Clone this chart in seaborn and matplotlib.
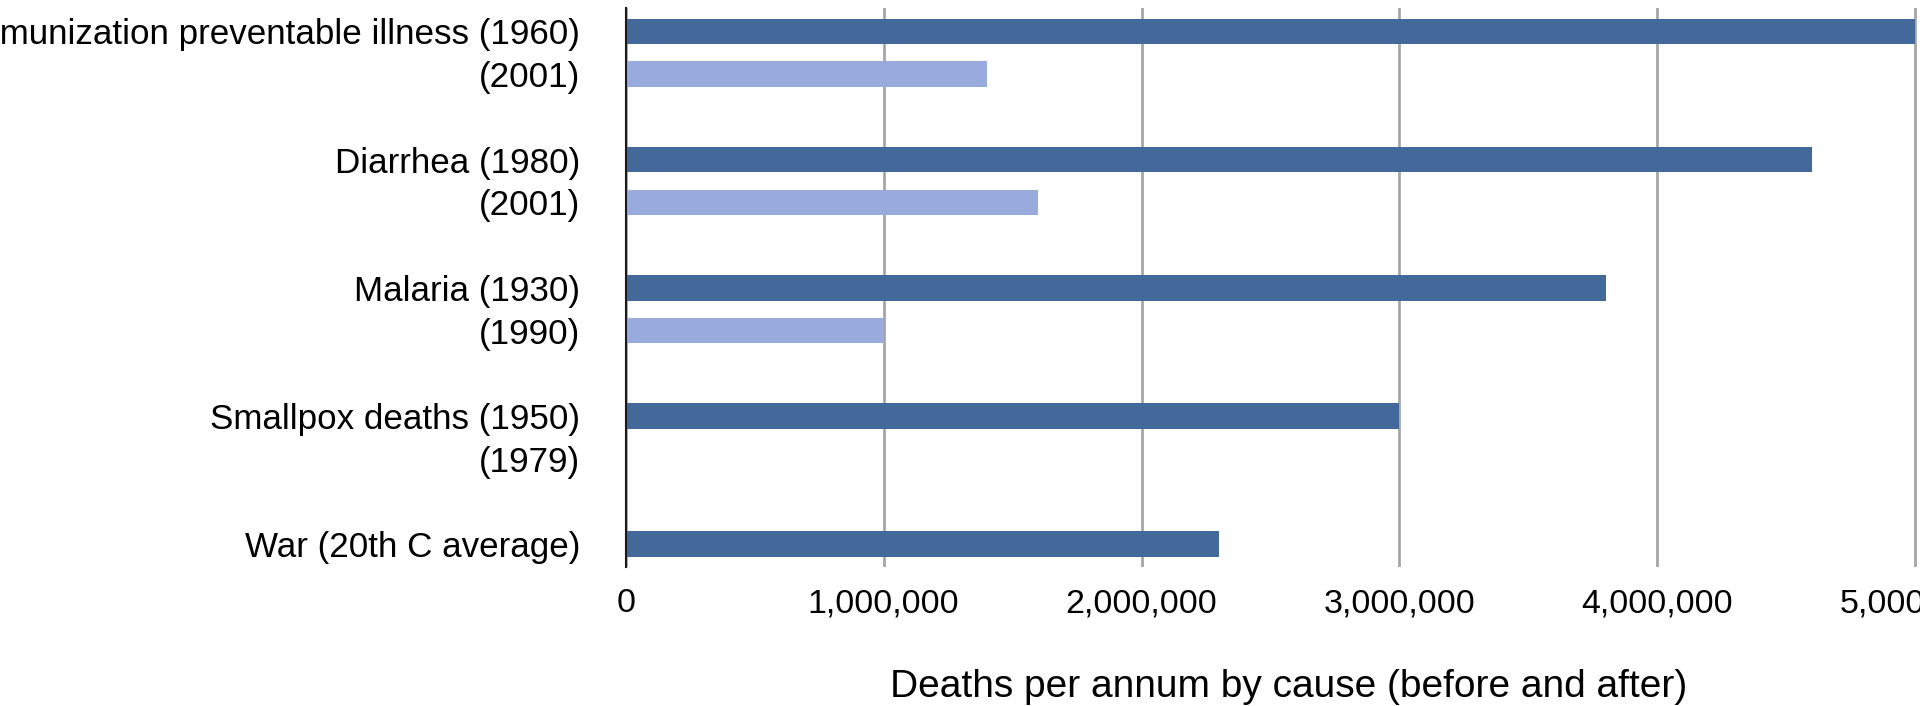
import matplotlib
matplotlib.use("Agg")
import matplotlib.pyplot as plt
from matplotlib.ticker import FuncFormatter, MultipleLocator
import seaborn as sns
import pandas as pd

# Rows of the chart, top to bottom; spacer rows separate the cause groups
row_keys = ["imm_before", "imm_after", "gap1",
            "diar_before", "diar_after", "gap2",
            "mal_before", "mal_after", "gap3",
            "pox_before", "pox_after", "gap4",
            "war"]
row_labels = ["Immunization preventable illness (1960)", "(2001)", "",
              "Diarrhea (1980)", "(2001)", "",
              "Malaria (1930)", "(1990)", "",
              "Smallpox deaths (1950)", "(1979)", "",
              "War (20th C average)"]

# Deaths per annum for each drawn row
bar_keys = ["imm_before", "imm_after", "diar_before", "diar_after",
            "mal_before", "mal_after", "pox_before", "pox_after", "war"]
deaths = [5000000, 1400000, 4600000, 1600000,
          3800000, 1000000, 3000000, 0, 2300000]
period = ["before", "after", "before", "after",
          "before", "after", "before", "after", "before"]

x_ticks_step = 1000000
x_max = 5140000

colors = {"before": "#43699B", "after": "#98AADE"}

df = pd.DataFrame({"row": bar_keys, "deaths": deaths, "period": period})

sns.set_theme(style="white")
plt.rcParams["font.family"] = ["Liberation Sans", "DejaVu Sans"]

fig = plt.figure(figsize=(19.2, 7.06), dpi=100)
ax = fig.add_axes([0.3259, 0.1965, 0.6904, 0.7917])

sns.barplot(data=df, x="deaths", y="row", hue="period", order=row_keys,
            palette=colors, saturation=1, dodge=False, width=0.6,
            legend=False, linewidth=0, ax=ax, zorder=3)

ax.set_xlim(0, x_max)
ax.set_ylim(len(row_keys) - 1 + 0.54, -0.54)

ax.xaxis.set_major_locator(MultipleLocator(x_ticks_step))
ax.xaxis.set_major_formatter(FuncFormatter(lambda v, p: f"{v:,.0f}"))
ax.set_yticks(range(len(row_keys)), labels=row_labels)

ax.xaxis.grid(True, color="#A6A6A6", linewidth=2.0, zorder=0)
ax.yaxis.grid(False)
ax.set_axisbelow(True)

for side in ["top", "right", "bottom"]:
    ax.spines[side].set_visible(False)
ax.spines["left"].set_color("#1a1a1a")
ax.spines["left"].set_linewidth(1.5)
ax.spines["left"].set_zorder(5)

ax.tick_params(axis="y", length=0, pad=33, labelsize=25.2, labelcolor="black")
ax.tick_params(axis="x", length=0, pad=15, labelsize=24.5, labelcolor="black")

ax.set_ylabel("")
ax.set_xlabel("Deaths per annum by cause (before and after)",
              fontsize=28, color="black", labelpad=36)

fig.savefig("out.png", dpi=100, facecolor="white")
